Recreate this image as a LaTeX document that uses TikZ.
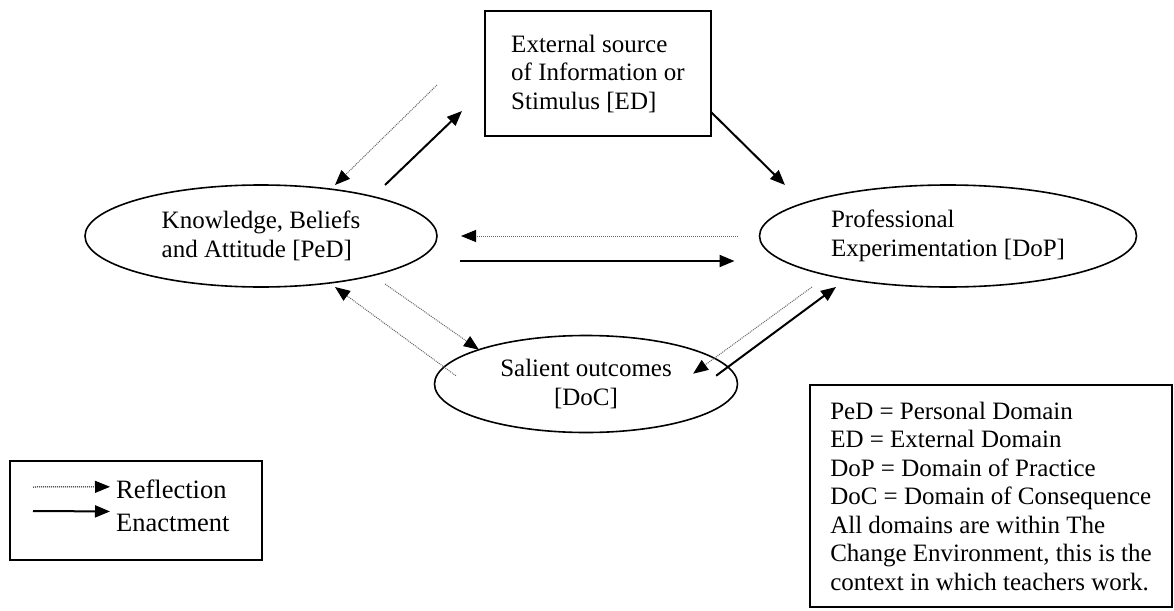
\documentclass[tikz,border=0pt]{standalone}
\usepackage{fontspec}
\setmainfont{Liberation Serif}
\usepackage{tikz}
\usetikzlibrary{arrows.meta, shapes.geometric}

\tikzset{
	domainnode/.style={draw, ellipse, line width=1.6pt, inner sep=0pt, outer sep=0pt, font=\fontsize{25}{28.5}\selectfont},
	framebox/.style={draw, rectangle, line width=1.6pt, inner sep=0pt, outer sep=0pt, align=left, font=\fontsize{25}{28.5}\selectfont},
	enact/.style={line width=2pt, -{Triangle[length=15pt,width=12pt]}},
	reflect/.style={line width=1pt, densely dotted, draw=black!60, -{Triangle[length=15pt,width=12pt,color=black]}},
}

\begin{document}
\begin{tikzpicture}[x=1pt, y=-1pt]
		\useasboundingbox (0,0) rectangle (1174,610);

		\node [domainnode, minimum width=352pt, minimum height=102pt, align=left] (ped) at (261,236) {Knowledge, Beliefs\\and Attitude [PeD]};
		\node [domainnode, minimum width=377pt, minimum height=102pt, align=left] (dop) at (948,236) {Professional\\Experimentation [DoP]};
		\node [domainnode, minimum width=303pt, minimum height=97pt, align=center] (doc) at (586,384) {Salient outcomes\\{}[DoC]};
		\node [framebox, minimum width=226pt, minimum height=125pt] (ed) at (598,73.5) {External source\\of Information or\\Stimulus [ED]};

		\draw [enact] ([xshift=124pt]ped.north) -- ([xshift=-23pt,yshift=25pt]ed.south west);
		\draw [reflect] ([xshift=-48pt,yshift=51pt]ed.south west) -- ([xshift=74pt]ped.north);
		\draw [enact] ([yshift=24pt]ed.south east) -- ([xshift=-163pt]dop.north);

		\draw [reflect] ([xshift=-22pt]dop.west) -- ([xshift=24pt]ped.east);
		\draw [enact] ([xshift=23pt,yshift=-25pt]ped.east) -- ([xshift=-25pt,yshift=-25pt]dop.west);

		\draw [reflect] ([xshift=124pt,yshift=3pt]ped.south) -- (doc.north west);
		\draw [reflect] ([xshift=-23pt,yshift=-26pt]doc.north west) -- ([xshift=74pt]ped.south);
		\draw [reflect] ([xshift=-136pt]dop.south) -- ([yshift=-24pt]doc.north east);
		\draw [enact] ([xshift=23pt,yshift=-26pt]doc.north east) -- ([xshift=-112pt]dop.south);

		\node [framebox, minimum width=252pt, minimum height=99pt] (legend) at (136,510.5) {};
		\node [anchor=base west, inner sep=0pt, font=\fontsize{26.5}{32}\selectfont] (refl) at (116,498) {Reflection};
		\node [anchor=base west, inner sep=0pt, font=\fontsize{26.5}{32}\selectfont] (enac) at (116,531) {Enactment};
		\coordinate (r0) at (33,487);
		\coordinate (e0) at (33,511);
		\draw [reflect, draw=black] (r0) -- ([xshift=-6pt,yshift=2pt]refl.west);
		\draw [enact] (e0) -- ([xshift=-6pt,yshift=11pt]enac.west);

		\node [framebox, minimum width=362pt, minimum height=222pt] (defs) at (991,496) {PeD = Personal Domain\\ED = External Domain\\DoP = Domain of Practice\\DoC = Domain of Consequence\\All domains are within The\\Change Environment, this is the\\context in which teachers work.};
	\end{tikzpicture}
\end{document}
